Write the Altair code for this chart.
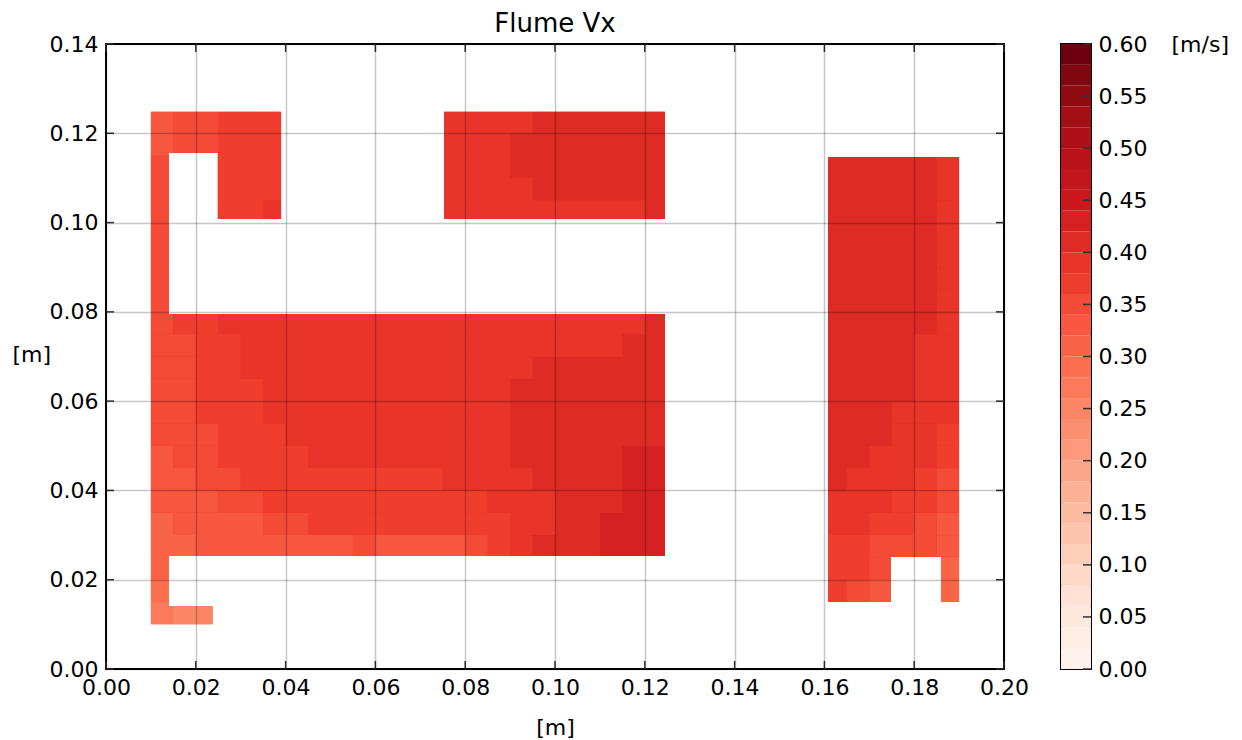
import altair as alt
import pandas as pd

# ---------------- data ----------------
x_ticks = [0.00, 0.02, 0.04, 0.06, 0.08, 0.10, 0.12, 0.14, 0.16, 0.18, 0.20]
y_ticks = [0.00, 0.02, 0.04, 0.06, 0.08, 0.10, 0.12, 0.14]
cbar_levels = [0.00, 0.02, 0.04, 0.06, 0.08, 0.10, 0.12, 0.14, 0.16, 0.18, 0.20,
               0.22, 0.24, 0.26, 0.28, 0.30, 0.32, 0.34, 0.36, 0.38, 0.40,
               0.42, 0.44, 0.46, 0.48, 0.50, 0.52, 0.54, 0.56, 0.58, 0.60]
cbar_ticks = [0.00, 0.05, 0.10, 0.15, 0.20, 0.25, 0.30, 0.35, 0.40, 0.45, 0.50, 0.55, 0.60]

# flume geometry: wet rectangles (x0, x1, y0, y1) in metres
regions = [
    (0.0100, 0.0238, 0.0100, 0.0141),
    (0.0100, 0.0140, 0.0141, 0.0253),
    (0.0100, 0.1245, 0.0253, 0.0795),
    (0.0100, 0.0140, 0.0795, 0.1156),
    (0.0100, 0.0390, 0.1156, 0.1248),
    (0.0249, 0.0390, 0.1008, 0.1156),
    (0.0753, 0.1245, 0.1008, 0.1248),
    (0.1608, 0.1900, 0.0251, 0.1147),
    (0.1608, 0.1748, 0.0150, 0.0251),
    (0.1860, 0.1900, 0.0150, 0.0251),
]
region_base = [.27, .31, .39, .35, .35, .37, .39, .41, .37, .31]

# sampled Vx [m/s] on 5 mm cells, west part (x 0.010-0.125), rows from y=0.010 upwards
vals_west = [
    [.27, .25, .25] + [0] * 20,
    [.29] + [0] * 22,
    [.31] + [0] * 22,
    [.31, .31, .33, .33, .33, .33, .33, .33, .33, .35, .33, .33, .33, .33, .35, .37, .39, .41, .41, .41, .43, .43, .43],
    [.31, .33, .33, .33, .33, .35, .35, .37, .37, .37, .37, .37, .37, .37, .37, .37, .39, .39, .41, .41, .43, .43, .43],
    [.33, .33, .33, .35, .35, .37, .37, .37, .37, .37, .37, .37, .37, .37, .37, .39, .39, .39, .41, .41, .41, .43, .43],
    [.33, .33, .35, .35, .37, .37, .37, .37, .37, .37, .37, .37, .37, .39, .39, .39, .39, .41, .41, .41, .41, .43, .43],
    [.33, .35, .35, .37, .37, .37, .37, .39, .39, .39, .39, .39, .39, .39, .39, .39, .41, .41, .41, .41, .41, .43, .43],
    [.35, .35, .35, .37, .37, .37, .39, .39, .39, .39, .39, .39, .39, .39, .39, .39, .41, .41, .41, .41, .41, .41, .41],
    [.35, .35, .37, .37, .37, .39, .39, .39, .39, .39, .39, .39, .39, .39, .39, .39, .41, .41, .41, .41, .41, .41, .41],
    [.35, .35, .37, .37, .37, .39, .39, .39, .39, .39, .39, .39, .39, .39, .39, .39, .41, .41, .41, .41, .41, .41, .41],
    [.35, .35, .37, .37, .39, .39, .39, .39, .39, .39, .39, .39, .39, .39, .39, .39, .39, .41, .41, .41, .41, .41, .41],
    [.35, .35, .37, .37, .39, .39, .39, .39, .39, .39, .39, .39, .39, .39, .39, .39, .39, .39, .39, .39, .39, .41, .41],
    [.35, .37, .37, .39, .39, .39, .39, .39, .39, .39, .39, .39, .39, .39, .39, .39, .39, .39, .39, .39, .39, .39, .41],
    [.35] + [0] * 22,
    [.35] + [0] * 22,
    [.35] + [0] * 22,
    [.35] + [0] * 22,
    [.35, 0, .37, .37, .37, .39] + [0] * 7 + [.39, .39, .39, .39, .39, .39, .39, .39, .39, .41],
    [.35, 0, .37, .37, .37, .37] + [0] * 7 + [.39, .39, .39, .39, .41, .41, .41, .41, .41, .41],
    [.35, 0, .37, .37, .37, .37] + [0] * 7 + [.39, .39, .39, .41, .41, .41, .41, .41, .41, .41],
    [.33, .35, .35, .37, .37, .37] + [0] * 7 + [.39, .39, .39, .41, .41, .41, .41, .41, .41, .41],
    [.33, .35, .35, .37, .37, .37] + [0] * 7 + [.39, .39, .39, .39, .41, .41, .41, .41, .41, .41],
]

# east part (x 0.160-0.190), same rows
vals_east = [
    [0, 0, 0, 0, 0, 0],
    [.37, .35, .33, 0, 0, .31],
    [.37, .37, .35, 0, 0, .31],
    [.37, .37, .35, .35, .35, .33],
    [.39, .39, .37, .37, .35, .33],
    [.39, .39, .39, .37, .37, .35],
    [.41, .39, .39, .39, .37, .35],
    [.41, .41, .39, .39, .39, .37],
    [.41, .41, .41, .39, .39, .37],
    [.41, .41, .41, .39, .39, .39],
    [.41, .41, .41, .41, .39, .39],
    [.41, .41, .41, .41, .39, .39],
    [.41, .41, .41, .41, .39, .39],
    [.41, .41, .41, .41, .41, .39],
    [.41, .41, .41, .41, .41, .39],
    [.41, .41, .41, .41, .41, .39],
    [.41, .41, .41, .41, .41, .39],
    [.41, .41, .41, .41, .41, .39],
    [.41, .41, .41, .41, .41, .39],
    [.41, .41, .41, .41, .41, .39],
    [.41, .41, .41, .41, .41, .39],
    [0, 0, 0, 0, 0, 0],
    [0, 0, 0, 0, 0, 0],
]

cell = 0.005
west_x0 = 0.010
east_x0 = 0.160
row_y0 = 0.010

# matplotlib "Reds" colour stops
reds_stops = [0.0, 0.075, 0.15, 0.225, 0.30, 0.375, 0.45, 0.525, 0.60]
reds_colors = ["#fff5f0", "#fee0d2", "#fcbba1", "#fc9272", "#fb6a4a",
               "#ef3b2c", "#cb181d", "#a50f15", "#67000d"]

# ---------------- build cell table clipped to the geometry ----------------
records = []


def add_cells(vals, x_origin):
    for i, row in enumerate(vals):
        cy0 = row_y0 + i * cell
        cy1 = cy0 + cell
        # merge horizontal runs of equal value
        runs = []
        for j, v in enumerate(row):
            if runs and runs[-1][2] == v and runs[-1][1] == j:
                runs[-1][1] = j + 1
            else:
                runs.append([j, j + 1, v])
        for j0, j1, v in runs:
            if not v:
                continue
            cx0 = x_origin + j0 * cell
            cx1 = x_origin + j1 * cell
            for (rx0, rx1, ry0, ry1) in regions:
                a0, a1 = max(cx0, rx0), min(cx1, rx1)
                b0, b1 = max(cy0, ry0), min(cy1, ry1)
                if a1 - a0 > 1e-9 and b1 - b0 > 1e-9:
                    records.append({"x0": a0, "x1": a1, "y0": b0, "y1": b1, "v": v})


add_cells(vals_west, west_x0)
add_cells(vals_east, east_x0)
df = pd.DataFrame(records)

base_df = pd.DataFrame([{"x0": r[0], "x1": r[1], "y0": r[2], "y1": r[3], "v": b}
                        for r, b in zip(regions, region_base)])

cb_df = pd.DataFrame({"lo": cbar_levels[:-1], "hi": cbar_levels[1:]})
cb_df["mid"] = (cb_df["lo"] + cb_df["hi"]) / 2

xt_df = pd.DataFrame({"t": x_ticks})
yt_df = pd.DataFrame({"t": y_ticks})
ct_df = pd.DataFrame({"t": cbar_ticks})

W, H = 898, 625
cscale = alt.Scale(domain=reds_stops, range=reds_colors, interpolate="rgb")
xscale = alt.Scale(domain=[0, 0.2], nice=False, zero=False)
yscale = alt.Scale(domain=[0, 0.14], nice=False, zero=False)

xaxis = alt.Axis(values=x_ticks, format=".2f", title="[m]", grid=True,
                 gridColor="black", gridOpacity=0.22, gridWidth=1.5,
                 domain=False, ticks=False, labelPadding=8, titlePadding=19,
                 labelFlush=False, zindex=1)
yaxis = alt.Axis(values=y_ticks, format=".2f", title="[m]", grid=True,
                 gridColor="black", gridOpacity=0.22, gridWidth=1.5,
                 domain=False, ticks=False, labelPadding=8, labelFlush=False,
                 titleAngle=0, titleAlign="left", titleBaseline="middle",
                 titleX=-94, titleY=H / 2 - 2, zindex=1)

underlay = alt.Chart(base_df).mark_rect().encode(
    x=alt.X("x0:Q", scale=xscale, axis=xaxis),
    x2="x1:Q",
    y=alt.Y("y0:Q", scale=yscale, axis=yaxis),
    y2="y1:Q",
    color=alt.Color("v:Q", scale=cscale, legend=None),
)

field = alt.Chart(df).mark_rect().encode(
    x=alt.X("x0:Q", scale=xscale, axis=xaxis),
    x2="x1:Q",
    y=alt.Y("y0:Q", scale=yscale, axis=yaxis),
    y2="y1:Q",
    color=alt.Color("v:Q", scale=cscale, legend=None),
)

tick_color = "#333333"
xt_bottom = alt.Chart(xt_df).mark_rule(color=tick_color, strokeWidth=1.5).encode(
    x=alt.X("t:Q", scale=xscale), y=alt.value(H), y2=alt.value(H - 8))
xt_top = alt.Chart(xt_df).mark_rule(color=tick_color, strokeWidth=1.5).encode(
    x=alt.X("t:Q", scale=xscale), y=alt.value(0), y2=alt.value(8))
yt_left = alt.Chart(yt_df).mark_rule(color=tick_color, strokeWidth=1.5).encode(
    y=alt.Y("t:Q", scale=yscale), x=alt.value(0), x2=alt.value(8))
yt_right = alt.Chart(yt_df).mark_rule(color=tick_color, strokeWidth=1.5).encode(
    y=alt.Y("t:Q", scale=yscale), x=alt.value(W), x2=alt.value(W - 8))

main = alt.layer(underlay, field, xt_bottom, xt_top, yt_left, yt_right).properties(
    width=W, height=H,
    title=alt.TitleParams("Flume Vx", fontSize=26, fontWeight="normal",
                          font="DejaVu Sans", color="black", offset=-4,
                          anchor="middle"),
)

cb_y = alt.Scale(domain=[0, 0.6], nice=False, zero=False)
cbar_rects = alt.Chart(cb_df).mark_rect().encode(
    x=alt.value(0), x2=alt.value(30),
    y=alt.Y("lo:Q", scale=cb_y,
            axis=alt.Axis(orient="right", values=cbar_ticks, format=".2f",
                          title="[m/s]", titleAngle=0, titleAlign="left",
                          titleBaseline="middle", titleX=80, titleY=0,
                          grid=False, domain=False, ticks=False, labelPadding=7,
                          labelFlush=False)),
    y2="hi:Q",
    color=alt.Color("mid:Q", scale=cscale, legend=None),
)
cbar_ticks_layer = alt.Chart(ct_df).mark_rule(color=tick_color, strokeWidth=1.5).encode(
    y=alt.Y("t:Q", scale=cb_y),
    x=alt.value(22), x2=alt.value(30))
cbar = alt.layer(cbar_rects, cbar_ticks_layer).properties(width=30, height=H)

chart = alt.hconcat(main, cbar, spacing=57, bounds="flush").properties(
    padding={"left": 11, "top": 10, "right": 5, "bottom": 5}
).configure(font="DejaVu Sans").configure_view(
    stroke="black", strokeWidth=2
).configure_axis(
    labelFontSize=22, titleFontSize=22, labelColor="black", titleColor="black",
    titleFontWeight="normal", labelFont="DejaVu Sans", titleFont="DejaVu Sans"
)

chart.save("out.html", embed_options={"renderer": "svg", "actions": False})
